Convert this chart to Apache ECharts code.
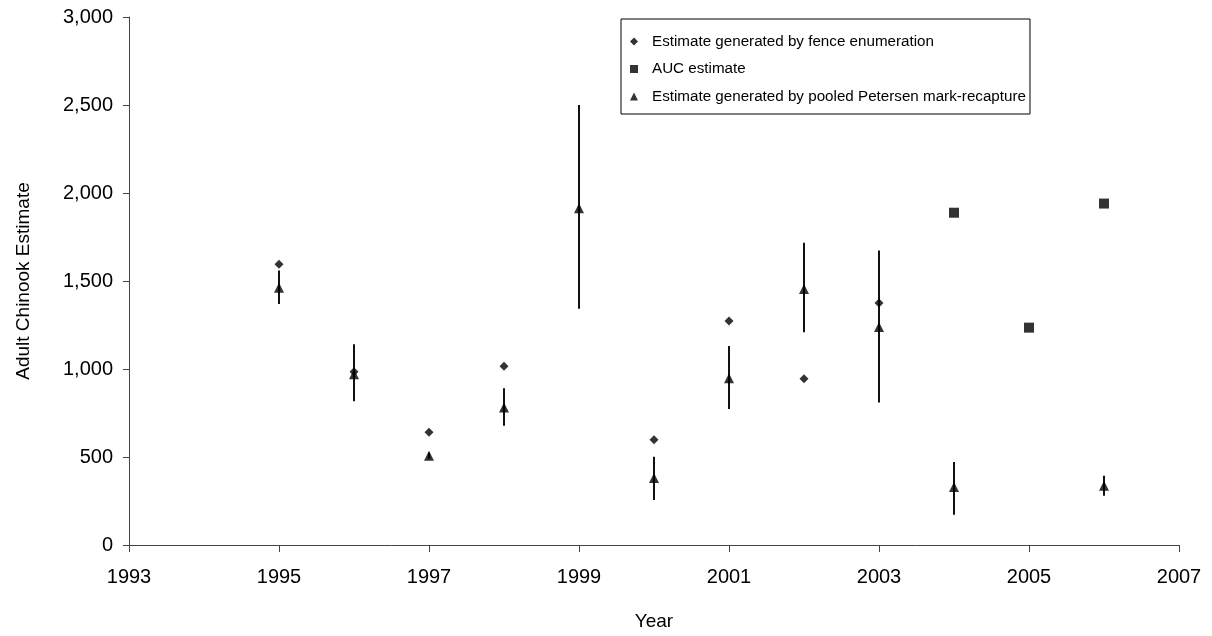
<!DOCTYPE html>
<html>
<head>
<meta charset="utf-8">
<script src="https://cdn.jsdelivr.net/npm/echarts@6/dist/echarts.min.js"></script>
<style>
  html, body { margin: 0; padding: 0; background: #fff; }
  #chart { width: 1212px; height: 636px; }
</style>
</head>
<body>
<div id="chart"></div>
<script>
// fence enumeration (diamonds)
const fenceYears = [1995, 1996, 1997, 1998, 2000, 2001, 2002, 2003]
const fenceValues = [1595, 985, 640, 1015, 598, 1273, 945, 1375]
// AUC estimate (squares)
const aucYears = [2004, 2005, 2006]
const aucValues = [1888, 1235, 1940]
// pooled Petersen mark-recapture (triangles) with error bars
const petersenYears = [1995, 1996, 1997, 1998, 1999, 2000, 2001, 2002, 2003, 2004, 2006]
const petersenValues = [1462, 970, 507, 781, 1914, 380, 948, 1455, 1239, 330, 337]
const petersenLow = [1370, 817, 490, 677, 1342, 256, 773, 1209, 809, 172, 280]
const petersenHigh = [1559, 1141, 525, 891, 2500, 502, 1131, 1717, 1673, 472, 393]

const yTicks = [0, 500, 1000, 1500, 2000, 2500, 3000]

const chart = echarts.init(document.getElementById('chart'))

const pair = (xs, ys) => xs.map((x, i) => [x, ys[i]])
const bars = petersenYears.map((y, i) => [y, petersenLow[i], petersenHigh[i]])

const font = 'Liberation Sans, Arial, sans-serif'
const axisColor = '#444'

const option = {
  animation: false,
  backgroundColor: '#fff',
  grid: { left: 129, right: 33, top: 17, bottom: 91 },
  legend: {
    orient: 'vertical',
    left: 621,
    top: 19,
    padding: [15, 4, 10, 9],
    itemGap: 12.5,
    itemWidth: 8,
    itemHeight: 8,
    borderColor: '#000',
    borderWidth: 1,
    textStyle: { fontFamily: font, fontSize: 15.2, color: '#000', padding: [0, 0, 0, 9] },
    data: [
      { name: 'Estimate generated by fence enumeration', icon: 'diamond' },
      { name: 'AUC estimate', icon: 'rect' },
      { name: 'Estimate generated by pooled Petersen mark-recapture', icon: 'triangle' }
    ]
  },
  xAxis: {
    type: 'value',
    min: 1993,
    max: 2007,
    interval: 2,
    name: 'Year',
    nameLocation: 'middle',
    nameGap: 67,
    nameTextStyle: { fontFamily: font, fontSize: 19, color: '#000' },
    axisLine: { lineStyle: { color: axisColor, width: 1 } },
    axisTick: { length: 7, lineStyle: { color: axisColor } },
    axisLabel: { fontFamily: font, fontSize: 20, color: '#000', margin: 22, formatter: v => String(v) },
    splitLine: { show: false }
  },
  yAxis: {
    type: 'value',
    min: 0,
    max: 3000,
    interval: 500,
    name: 'Adult Chinook Estimate',
    nameLocation: 'middle',
    nameGap: 96,
    nameTextStyle: { fontFamily: font, fontSize: 19, color: '#000' },
    axisLine: { show: true, lineStyle: { color: axisColor, width: 1 } },
    axisTick: { show: true, length: 6, lineStyle: { color: axisColor } },
    axisLabel: {
      fontFamily: font, fontSize: 20, color: '#000', margin: 16,
      formatter: v => yTicks.includes(v) ? v.toLocaleString('en-US') : ''
    },
    splitLine: { show: false }
  },
  series: [
    {
      type: 'custom',
      name: 'errorbars',
      silent: true,
      renderItem: (params, api) => {
        const lo = api.coord([api.value(0), api.value(1)])
        const hi = api.coord([api.value(0), api.value(2)])
        return {
          type: 'line',
          shape: { x1: lo[0], y1: lo[1], x2: hi[0], y2: hi[1] },
          style: { stroke: '#111', lineWidth: 2 }
        }
      },
      encode: { x: 0, y: [1, 2] },
      data: bars,
      z: 1
    },
    {
      type: 'scatter',
      name: 'Estimate generated by fence enumeration',
      symbol: 'diamond',
      symbolSize: 9,
      itemStyle: { color: '#000' },
      data: pair(fenceYears, fenceValues),
      z: 3
    },
    {
      type: 'scatter',
      name: 'AUC estimate',
      symbol: 'rect',
      symbolSize: 10,
      itemStyle: { color: '#000' },
      data: pair(aucYears, aucValues),
      z: 3
    },
    {
      type: 'scatter',
      name: 'Estimate generated by pooled Petersen mark-recapture',
      symbol: 'triangle',
      symbolSize: [10, 10],
      itemStyle: { color: '#000' },
      data: pair(petersenYears, petersenValues),
      z: 3
    }
  ]
}

chart.setOption(option)
</script>
</body>
</html>
